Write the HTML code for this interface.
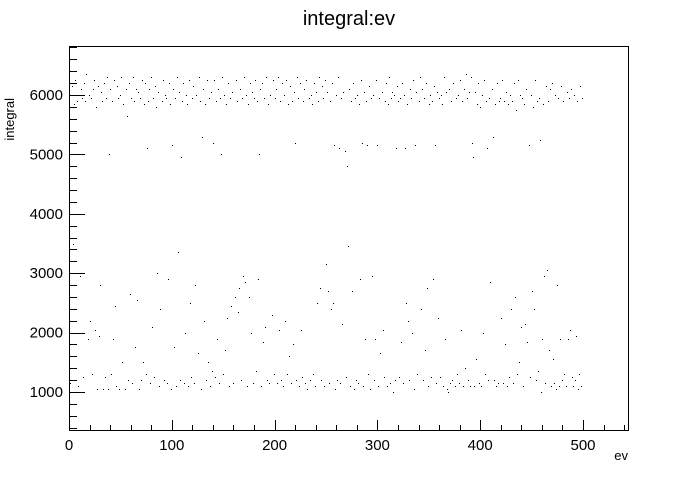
<!DOCTYPE html>
<html><head><meta charset="utf-8"><style>
body{margin:0;background:#fff;font-family:"Liberation Sans",sans-serif}
svg text{font-family:"Liberation Sans",sans-serif}
</style></head><body>
<svg width="698" height="476" xmlns="http://www.w3.org/2000/svg">
<rect width="698" height="476" fill="#fff"/>
<text x="349" y="25" font-size="20" text-anchor="middle">integral:ev</text>
<g id="ticks" shape-rendering="crispEdges"></g>
<g id="pts" shape-rendering="crispEdges"></g>
<rect x="69.5" y="46.5" width="559" height="384" fill="none" stroke="#000" stroke-width="1" shape-rendering="crispEdges"/>
<text x="628" y="460" font-size="13" text-anchor="end">ev</text>
<text transform="translate(14,98) rotate(-90)" font-size="13" text-anchor="end">integral</text>
</svg>
<script>
const xTicks=[0,100,200,300,400,500];
const yTicks=[1000,2000,3000,4000,5000,6000];
const values=[
6050,1150,5800,6150,3500,5850,6250,2600,5900,1100,6000,2950,6100,5950,1250,6200,5900,6350,1900,6000,
2200,5950,1300,6100,6250,2050,5800,1050,6150,1950,2800,6050,5900,1050,6200,1250,5950,6300,1050,5000,
6100,1300,5900,1900,6250,2450,1100,6150,5950,1050,6000,6300,1500,5850,1050,6100,5650,1200,6200,2650,
5950,1150,6300,5900,1750,6100,2550,6050,1050,5950,1200,6250,1500,5850,6200,1300,5100,5900,6100,1150,
6300,2100,5950,1250,6150,5800,3000,6050,1100,2400,5900,6250,1200,6000,5950,1150,2900,6200,5850,1050,
5150,6100,1750,5950,1100,6300,3350,6050,1200,4950,5900,6200,1150,2000,6000,5850,1100,6250,2500,1250,
5950,6150,1150,2800,6000,1650,6300,5900,1050,5300,6100,2200,5850,1200,6250,1500,5950,1100,6050,1350,
5200,6250,1250,5900,1900,6100,1150,5950,5000,6300,1300,6000,1700,5850,2250,6200,1100,5950,2450,6050,
1150,2600,6250,5900,2350,2750,6100,1200,5950,2950,6300,2850,6000,1100,5850,2600,6200,2000,6050,1150,
5950,6250,1350,5900,2900,5000,6100,1100,6200,1850,5950,2100,6300,1200,5850,1150,6000,2300,6250,1300,
5950,6100,1150,6300,2050,5900,1200,6200,1100,6000,2200,6250,1300,5850,1600,6150,1150,5900,1800,6050,
5200,1200,6300,5950,1100,6200,2050,1250,5900,6100,1150,6250,1050,5950,1200,6000,5850,1300,6200,1100,
6050,2500,5900,6300,2750,1200,6150,5950,1100,6250,3150,6050,2700,1150,5900,2400,6200,2500,5150,1050,
6000,1200,6300,5100,1150,5950,2150,6050,5050,1250,4800,3450,6100,1100,5900,2700,6200,1050,5950,1200,
6000,1150,5850,2900,6250,5200,1100,6050,1900,5900,5150,1300,6150,1050,5950,2950,6000,1200,1900,6250,
5150,1100,5950,1650,6050,2050,1250,5900,6200,1100,5850,6300,1150,5950,6050,1000,6000,1200,5100,6150,
5900,1250,5950,1850,6200,1150,6000,5100,2500,5850,2200,1200,6100,5950,2000,6250,1050,5150,6050,1300,
5900,6300,2400,6100,1200,5950,1700,6200,2750,1100,5850,6000,1250,5900,2900,6150,5150,1150,6050,2250,
5950,1250,6000,5850,1100,6300,1900,6050,1050,1000,6100,1150,5900,1200,6200,1100,5950,1300,6000,1150,
6250,2050,5900,1100,6100,1400,6350,5950,1200,6050,1100,6300,5200,4950,1100,6050,1550,5850,6200,1150,
5800,1100,6000,2000,6250,1300,5900,5100,1200,5950,2850,6100,5300,1200,5850,1100,6200,1150,5900,5950,
2250,6250,1150,5900,1800,6050,1100,5850,1250,6000,2400,5900,1150,6200,2600,5750,1300,6250,1500,6000,
2100,5950,1100,5850,2150,6100,1850,5150,1250,6000,2700,5800,2400,6250,1200,5900,1350,5950,5250,1000,
1900,5850,2950,1150,6150,3050,5900,1700,6100,1100,6200,1550,1150,6000,1050,2800,5950,1100,1900,6150,
1200,5900,1300,1100,6050,1900,5950,2050,6100,1250,1100,6000,1200,1950,5900,1050,1300,6150,1100,5950];
const X0=69,XPX=1.028,Y1000=392,YPX=0.0594;
const xs=v=>X0+v*XPX, ys=v=>Y1000-(v-1000)*YPX;
const NS='http://www.w3.org/2000/svg';
const tg=document.getElementById('ticks'), pg=document.getElementById('pts');
function line(x1,y1,x2,y2){const l=document.createElementNS(NS,'line');
l.setAttribute('x1',x1);l.setAttribute('y1',y1);l.setAttribute('x2',x2);l.setAttribute('y2',y2);
l.setAttribute('stroke','#000');l.setAttribute('stroke-width','1');


tg.appendChild(l);}
for(let v=0;v<=540;v+=20){const x=Math.round(xs(v))+0.5;line(x,431,x,431-(v%100===0?11:6));}
for(let v=400;v<=6800;v+=200){const y=Math.round(ys(v))+0.5;if(y<46||y>431)continue;line(69,y,69+(v%1000===0?16:8),y);}
xTicks.forEach(v=>{const t=document.createElementNS(NS,'text');t.setAttribute('x',xs(v));t.setAttribute('y',450);
t.setAttribute('font-size','15');t.setAttribute('text-anchor','middle');t.textContent=v;


tg.appendChild(t);});
yTicks.forEach(v=>{const t=document.createElementNS(NS,'text');t.setAttribute('x',63);t.setAttribute('y',ys(v)+5);
t.setAttribute('font-size','15');t.setAttribute('text-anchor','end');t.textContent=v;


tg.appendChild(t);});
values.forEach((v,i)=>{const r=document.createElementNS(NS,'rect');
r.setAttribute('x',Math.round(xs(i)));r.setAttribute('y',Math.round(ys(v)));r.setAttribute('width',1);r.setAttribute('height',1);r.setAttribute('fill','#000');


pg.appendChild(r);});
</script>
</body></html>
